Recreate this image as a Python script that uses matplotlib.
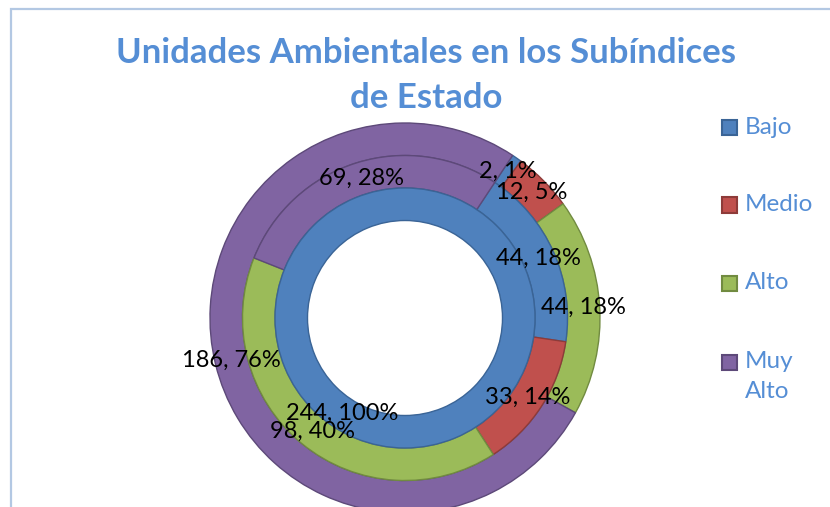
import matplotlib

matplotlib.use("Agg")
import matplotlib.pyplot as plt
import numpy as np
from matplotlib.patches import Rectangle

categories = ["Bajo", "Medio", "Alto", "Muy Alto"]
legend_labels = ["Bajo", "Medio", "Alto", "Muy\nAlto"]
inner_values = [244, 0, 0, 0]
middle_values = [44, 33, 98, 69]
outer_values = [2, 12, 44, 186]

colors = ["#4F81BD", "#C0504D", "#9BBB59", "#8064A2"]
edge_colors = ["#3A6496", "#8E3B39", "#718B40", "#5D4979"]
title_color = "#558ED5"

plt.rcParams["font.family"] = ["Lato", "DejaVu Sans"]

W, H = 830, 507
fig = plt.figure(figsize=(W / 100, H / 100), dpi=100)

# chart frame (only top and left edges are visible)
fig.add_artist(Rectangle((10.5 / W, -0.1), 1.0, (H - 8.5) / H + 0.1,
                         transform=fig.transFigure, fill=False,
                         edgecolor="#B3C8E3", linewidth=1.6))

# doughnut: center (405, 318) px, outer radius 195 px
cx, cy, R = 405, 318, 195
ax = fig.add_axes([(cx - R) / W, (H - cy - R) / H, 2 * R / W, 2 * R / H])

first_slice = 33.5  # degrees clockwise from 12 o'clock
width = 1 / 6
rings = [(outer_values, 1.0), (middle_values, 1 - width), (inner_values, 1 - 2 * width)]

for values, radius in rings:
    total = sum(values)
    wedges, _ = ax.pie(values, radius=radius, startangle=90 - first_slice,
                       counterclock=False, colors=colors,
                       wedgeprops=dict(width=width, linewidth=1.0))
    for wedge, value, ec in zip(wedges, values, edge_colors):
        wedge.set_edgecolor(ec)
        if value == 0:
            wedge.set_visible(False)
            continue
        mid = np.deg2rad((wedge.theta1 + wedge.theta2) / 2)
        r = radius - width / 2
        pct = round(100 * value / total)
        ax.text(r * np.cos(mid), r * np.sin(mid), f"{value}, {pct}%",
                ha="center", va="center", fontsize=17, color="black")

# pie() resets the limits, so set them afterwards
ax.set_xlim(-1, 1)
ax.set_ylim(-1, 1)
ax.set_aspect("equal")
ax.axis("off")
for p in ax.patches:
    p.set_clip_on(False)

title_lines = ["Unidades Ambientales en los Subíndices", "de Estado"]
for line, base in zip(title_lines, [63, 108]):
    fig.text(426 / W, 1 - base / H, line, ha="center", va="baseline",
             fontsize=25, fontweight="bold", color=title_color)

# legend
legend_y = [128, 205, 283, 362]
for label, y, c, ec in zip(legend_labels, legend_y, colors, edge_colors):
    fig.add_artist(Rectangle((722 / W, 1 - (y + 7.5) / H), 15 / W, 15 / H,
                             transform=fig.transFigure, facecolor=c,
                             edgecolor=ec, linewidth=1.5))
    fig.text(745 / W, 1 - (y - 11) / H, label, ha="left", va="top",
             fontsize=17.5, color=title_color, linespacing=1.55)

fig.savefig("out.png", dpi=100)
